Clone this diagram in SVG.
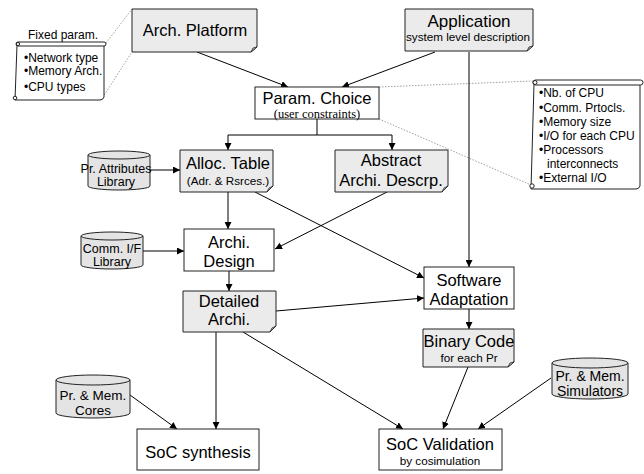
<svg xmlns="http://www.w3.org/2000/svg" width="644" height="474" viewBox="0 0 644 474">
<defs>
<marker id="ah" viewBox="0 0 10 10" refX="10" refY="5" markerWidth="7" markerHeight="7" markerUnits="userSpaceOnUse" orient="auto">
<path d="M0,0 L10,5 L0,10 Z" fill="#000"/>
</marker>
</defs>
<style>
text{font-family:"Liberation Sans",Arial,sans-serif;text-anchor:middle;fill:#000}
.big{font-size:16.5px}
.sm{font-size:11.7px}
.cyl{font-size:12.5px}
.cyl2{font-size:13.5px}
.ser{font-family:"Liberation Serif","Times New Roman",serif;font-size:12.5px}
.lst{font-size:12px;text-anchor:start}
.box{fill:#fff;stroke:#222;stroke-width:1}
.note{fill:#ebebeb;stroke:#222;stroke-width:1}
.fold{fill:#d0d0d0;stroke:#222;stroke-width:0.8}
.cy{fill:#e4e4e4;stroke:#222;stroke-width:1}
.scroll{fill:#fff;stroke:#222;stroke-width:1}
.c{fill:none;stroke:#000;stroke-width:1}
.dot{fill:none;stroke:#888;stroke-width:0.8;stroke-dasharray:1.5,1.5}
</style>

<g id="connectors">
<path class="dot" d="M106,43 L132,9"/>
<path class="dot" d="M101,100 L132,52"/>
<path class="dot" d="M379,87 L533,81"/>
<path class="dot" d="M379,119 L531,185"/>
<path class="c" d="M197,52 L288,87" marker-end="url(#ah)"/>
<path class="c" d="M435,52 L342,87" marker-end="url(#ah)"/>
<path class="c" d="M469,52 L469,267" marker-end="url(#ah)"/>
<path class="c" d="M317,119 L317,135 M228,135 L392,135"/>
<path class="c" d="M228,135 L228,150" marker-end="url(#ah)"/>
<path class="c" d="M392,135 L392,150" marker-end="url(#ah)"/>
<path class="c" d="M150,170 L180,170" marker-end="url(#ah)"/>
<path class="c" d="M228,192 L228,229" marker-end="url(#ah)"/>
<path class="c" d="M255,192 L424,278" marker-end="url(#ah)"/>
<path class="c" d="M387,192 L275,249" marker-end="url(#ah)"/>
<path class="c" d="M143,251 L184,251" marker-end="url(#ah)"/>
<path class="c" d="M229,271 L229,291" marker-end="url(#ah)"/>
<path class="c" d="M276,311 L424,298" marker-end="url(#ah)"/>
<path class="c" d="M469,309 L469,329" marker-end="url(#ah)"/>
<path class="c" d="M216,332 L216,429" marker-end="url(#ah)"/>
<path class="c" d="M243,332 L403,429" marker-end="url(#ah)"/>
<path class="c" d="M130,395 L177,429" marker-end="url(#ah)"/>
<path class="c" d="M468,367 L443,429" marker-end="url(#ah)"/>
<path class="c" d="M551,378 L478,429" marker-end="url(#ah)"/>
</g>

<g id="fixed-param">
<text class="lst" x="28" y="39">Fixed param.</text>
<path class="scroll" d="M17,45 L104,45 L104,97 Q103,100 100,100 L15,100 Z"/>
<rect class="scroll" x="16" y="42" width="90" height="4" rx="2"/>
<circle class="scroll" cx="18" cy="44" r="1.6"/>
<circle class="scroll" cx="15" cy="98" r="1.8"/>
<text class="lst" x="24" y="62">•Network type</text>
<text class="lst" x="24" y="75">•Memory Arch.</text>
<text class="lst" x="24" y="91">•CPU types</text>
</g>

<g id="arch-platform">
<path class="note" d="M132,9 H257 V47 L251,52 H132 Z"/>
<path class="fold" d="M251,52 L253,48 L257,47 Z"/>
<text class="big" x="195" y="36">Arch. Platform</text>
</g>

<g id="application">
<path class="note" d="M405,9 H533 V46 L527,51 H405 Z"/>
<path class="fold" d="M527,51 L529,47 L533,46 Z"/>
<text class="big" x="469" y="27" style="font-size:17px">Application</text>
<text class="sm" x="468" y="40.5">system level description</text>
</g>

<g id="param-choice">
<rect class="box" x="255" y="87" width="124" height="32"/>
<text class="big" x="317" y="104">Param. Choice</text>
<text class="ser" x="317" y="117.5">(user constraints)</text>
</g>

<g id="param-list">
<path class="scroll" d="M534,84 L640,84 L640,186 Q639,189 636,189 L531,189 Z"/>
<rect class="scroll" x="533" y="80" width="110" height="5" rx="2.5"/>
<circle class="scroll" cx="535" cy="82.5" r="2"/>
<circle class="scroll" cx="532" cy="186" r="2.2"/>
<text class="lst" x="539" y="97">•Nb. of CPU</text>
<text class="lst" x="539" y="112">•Comm. Prtocls.</text>
<text class="lst" x="539" y="126">•Memory size</text>
<text class="lst" x="539" y="140">•I/O for each CPU</text>
<text class="lst" x="539" y="154">•Processors</text>
<text class="lst" x="547" y="168">interconnects</text>
<text class="lst" x="539" y="182">•External I/O</text>
</g>

<g id="pr-attributes-library">
<path class="cy" d="M88,155 A31,4 0 0 1 150,155 V186 A31,4 0 0 1 88,186 Z"/>
<path class="cy" d="M88,155 A31,4 0 0 0 150,155"/>
<text class="cyl" x="116" y="173">Pr. Attributes</text>
<text class="cyl" x="116" y="186">Library</text>
</g>

<g id="alloc-table">
<path class="note" d="M180,150 H273 V186 L267,192 H180 Z"/>
<path class="fold" d="M267,192 L269,188 L273,186 Z"/>
<text class="big" x="228" y="169">Alloc. Table</text>
<text class="sm" x="228" y="185">(Adr. &amp; Rsrces.)</text>
</g>

<g id="abstract-archi">
<path class="note" d="M335,150 H448 V186 L442,192 H335 Z"/>
<path class="fold" d="M442,192 L444,188 L448,186 Z"/>
<text class="big" x="391" y="166">Abstract</text>
<text class="big" x="391" y="186">Archi. Descrp.</text>
</g>

<g id="comm-if-library">
<path class="cy" d="M81,236 A31,4 0 0 1 143,236 V265 A31,4 0 0 1 81,265 Z"/>
<path class="cy" d="M81,236 A31,4 0 0 0 143,236"/>
<text class="cyl" x="112" y="253">Comm. I/F</text>
<text class="cyl" x="112" y="266">Library</text>
</g>

<g id="archi-design">
<rect class="box" x="184" y="229" width="90" height="42"/>
<text class="big" x="229" y="248">Archi.</text>
<text class="big" x="229" y="267">Design</text>
</g>

<g id="detailed-archi">
<path class="note" d="M183,291 H276 V326 L270,332 H183 Z"/>
<path class="fold" d="M270,332 L272,328 L276,326 Z"/>
<text class="big" x="229" y="307">Detailed</text>
<text class="big" x="229" y="325">Archi.</text>
</g>

<g id="software-adaptation">
<rect class="box" x="424" y="267" width="90" height="42"/>
<text class="big" x="469" y="286">Software</text>
<text class="big" x="469" y="305">Adaptation</text>
</g>

<g id="binary-code">
<path class="note" d="M423,329 H514 V362 L508,367 H423 Z"/>
<path class="fold" d="M508,367 L510,363 L514,362 Z"/>
<text class="big" x="469" y="347">Binary Code</text>
<text class="sm" x="469" y="362">for each Pr</text>
</g>

<g id="pr-mem-cores">
<path class="cy" d="M56,380 A37,5 0 0 1 130,380 V413 A37,5 0 0 1 56,413 Z"/>
<path class="cy" d="M56,380 A37,5 0 0 0 130,380"/>
<text class="cyl2" x="93" y="400">Pr. &amp; Mem.</text>
<text class="cyl2" x="93" y="414.5">Cores</text>
</g>

<g id="pr-mem-simulators">
<path class="cy" d="M552,363 A38,5 0 0 1 628,363 V394 A38,5 0 0 1 552,394 Z"/>
<path class="cy" d="M552,363 A38,5 0 0 0 628,363"/>
<text class="cyl2" x="590" y="381" style="font-size:14px">Pr. &amp; Mem.</text>
<text class="cyl2" x="590" y="396" style="font-size:14px">Simulators</text>
</g>

<g id="soc-synthesis">
<rect class="box" x="137" y="429" width="122" height="41"/>
<text class="big" x="198" y="458">SoC synthesis</text>
</g>

<g id="soc-validation">
<rect class="box" x="379" y="429" width="123" height="41"/>
<text class="big" x="440" y="450">SoC Validation</text>
<text class="sm" x="440" y="464.5">by cosimulation</text>
</g>
</svg>
